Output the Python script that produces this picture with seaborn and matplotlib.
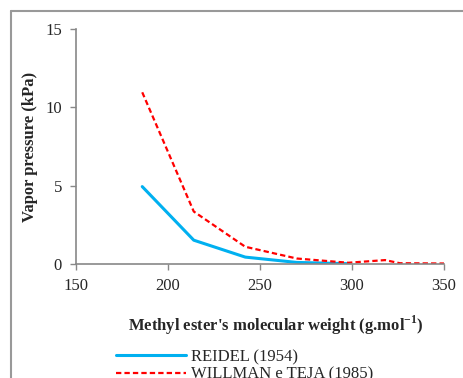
import numpy as np
import pandas as pd
import matplotlib.pyplot as plt
import seaborn as sns
from matplotlib.lines import Line2D

sns.set_style('white')
plt.rcParams['font.family'] = ['Liberation Serif', 'DejaVu Serif']
plt.rcParams['mathtext.fontset'] = 'custom'
plt.rcParams['mathtext.rm'] = 'Liberation Serif'
plt.rcParams['mathtext.bf'] = 'Liberation Serif:bold'

# Dados
reidel_mw = [186, 214, 242, 270, 298]
reidel_p = [4.94, 1.52, 0.44, 0.10, 0.02]

willman_mw = [186, 214, 242, 270, 298, 318, 326, 352]
willman_p = [10.96, 3.35, 1.10, 0.35, 0.08, 0.25, 0.05, 0.03]

labels = ['REIDEL (1954)', 'WILLMAN e TEJA (1985)']

df1 = pd.DataFrame({'mw': reidel_mw, 'p': reidel_p})
df2 = pd.DataFrame({'mw': willman_mw, 'p': willman_p})

fig = plt.figure(figsize=(4.63, 3.78), dpi=100)
ax = fig.add_axes([76 / 463, 1 - 264 / 378, 368 / 463, 235 / 378])

dash = (0, (2.4, 1.4))
sns.lineplot(x='mw', y='p', data=df1, ax=ax, color='#00B0F0', linewidth=2.2, label=labels[0])
sns.lineplot(x='mw', y='p', data=df2, ax=ax, color='#FF0000', linewidth=1.6,
             linestyle=dash, label=labels[1])

ax.set_xlim(150, 350)
ax.set_ylim(0, 15)
ax.set_xticks([150, 200, 250, 300, 350])
ax.set_yticks([0, 5, 10, 15])
ax.tick_params(axis='both', labelsize=12, length=4, width=1, color='#888888',
               direction='out', bottom=True, left=True, pad=6)

for s in ['top', 'right']:
    ax.spines[s].set_visible(False)
for s in ['left', 'bottom']:
    ax.spines[s].set_color('#888888')
    ax.spines[s].set_linewidth(1.2)

ax.set_xlabel("Methyl ester's molecular weight (g.mol$^{\\mathbf{-1}}$)",
              fontsize=12, fontweight='bold')
ax.set_ylabel('Vapor pressure (kPa)', fontsize=12, fontweight='bold')
ax.xaxis.set_label_coords(0.543, -50 / 235, transform=ax.transAxes)
ax.yaxis.set_label_coords(-38 / 368, 0.5, transform=ax.transAxes)

ax.get_legend().remove()
handles = [Line2D([], [], color='#00B0F0', linewidth=2.2),
           Line2D([], [], color='#FF0000', linewidth=1.6, linestyle=dash)]
fig.legend(handles, labels, loc='upper left', bbox_to_anchor=(116 / 463, 1 - 349 / 378),
           frameon=False, fontsize=12, handlelength=4.2, handletextpad=0.3,
           labelspacing=0.1, borderaxespad=0, borderpad=0)

# moldura (borda cinza superior e esquerda)
fig.add_artist(Line2D([11 / 463, 11 / 463], [0, 1 - 11 / 378], color='#999999', linewidth=1.5))
fig.add_artist(Line2D([11 / 463, 1], [1 - 11 / 378, 1 - 11 / 378], color='#999999', linewidth=1.5))

fig.savefig('out.png', dpi=100)
